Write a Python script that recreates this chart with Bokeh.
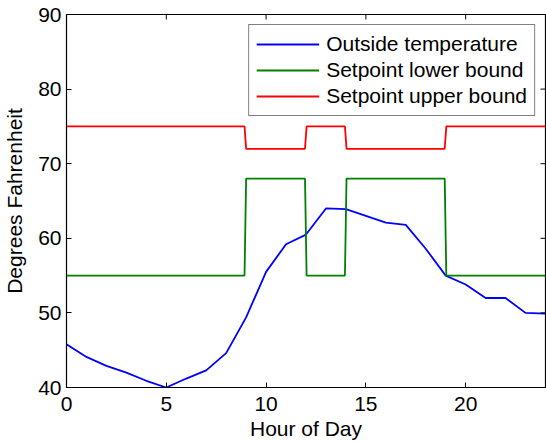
import math
from bokeh.plotting import figure
from bokeh.models import FixedTicker, Range1d, Legend, LegendItem
from bokeh.embed import file_html
from bokeh.resources import INLINE

hours = list(range(25))
outside_temp = [45.8, 44.1, 42.9, 42.0, 40.9, 40.0, 41.2, 42.3, 44.6, 49.4,
                55.5, 59.2, 60.5, 64.0, 63.9, 63.0, 62.1, 61.8, 58.6, 55.0,
                53.8, 52.0, 52.0, 50.0, 49.9]

sp_hours = [0, 8.92, 9.0, 11.95, 12.03, 13.95, 14.03, 18.95, 19.03, 24]
sp_lower = [55, 55, 68, 68, 55, 55, 68, 68, 55, 55]
sp_upper = [75, 75, 72, 72, 75, 75, 72, 72, 75, 75]

x_ticks = [0, 5, 10, 15, 20]
y_ticks = [40, 50, 60, 70, 80, 90]
X_MIN, X_MAX = 0, 24
Y_MIN, Y_MAX = 40, 90

FONT = "Liberation Sans"
FS = "21px"

p = figure(width=546, height=443, output_backend="svg",
           toolbar_location=None, x_range=Range1d(X_MIN, X_MAX), y_range=Range1d(Y_MIN, Y_MAX),
           min_border_left=66, min_border_right=1, min_border_top=14, min_border_bottom=56,
           background_fill_color="white", border_fill_color="white")

p.xgrid.visible = False
p.ygrid.visible = False
p.outline_line_color = "black"
p.outline_line_width = 1.2

r1 = p.line(hours, outside_temp, line_color="#0000ff", line_width=1.8)
r2 = p.line(sp_hours, sp_lower, line_color="#008000", line_width=1.8)
r3 = p.line(sp_hours, sp_upper, line_color="#ff0000", line_width=1.8)

# mirrored inward ticks on top and right edges
p.ray(x=x_ticks, y=[Y_MAX] * len(x_ticks), length=5, length_units="screen",
      angle=-math.pi / 2, line_color="black", line_width=1)
p.ray(x=[X_MAX] * len(y_ticks), y=y_ticks, length=5, length_units="screen",
      angle=math.pi, line_color="black", line_width=1)

for ax, ticks in ((p.xaxis[0], x_ticks), (p.yaxis[0], y_ticks)):
    ax.ticker = FixedTicker(ticks=ticks)
    ax.major_tick_in = 5
    ax.major_tick_out = 0
    ax.minor_tick_line_color = None
    ax.axis_line_color = "black"
    ax.major_tick_line_color = "black"
    ax.major_label_text_font = FONT
    ax.major_label_text_font_size = FS
    ax.major_label_text_color = "black"
    ax.axis_label_text_font = FONT
    ax.axis_label_text_font_size = FS
    ax.axis_label_text_font_style = "normal"
    ax.axis_label_text_color = "black"

p.xaxis[0].axis_label = "Hour of Day"
p.yaxis[0].axis_label = "Degrees Fahrenheit"
p.xaxis[0].major_label_standoff = 9
p.xaxis[0].axis_label_standoff = 3
p.yaxis[0].major_label_standoff = 5
p.yaxis[0].axis_label_standoff = 9

legend = Legend(items=[
    LegendItem(label="Outside temperature", renderers=[r1]),
    LegendItem(label="Setpoint lower bound", renderers=[r2]),
    LegendItem(label="Setpoint upper bound", renderers=[r3]),
], location="top_right")
legend.label_text_font = FONT
legend.label_text_font_size = FS
legend.label_text_color = "black"
legend.border_line_color = "black"
legend.border_line_width = 1.2
legend.glyph_width = 63
legend.glyph_height = 20
legend.label_height = 20
legend.spacing = 2
legend.padding = 7
legend.margin = 10
legend.label_standoff = 7
legend.background_fill_alpha = 1.0
p.add_layout(legend)

open("out.html", "w").write(file_html(p, INLINE))
